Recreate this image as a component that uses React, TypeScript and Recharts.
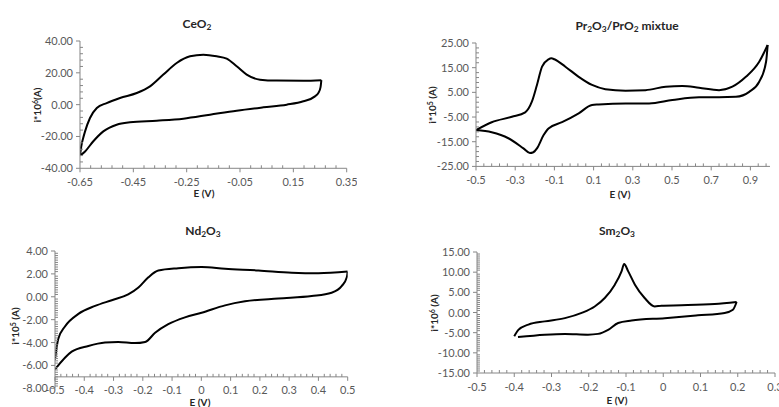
import React from 'react';
import { LineChart, Line, XAxis, YAxis, ReferenceLine } from 'recharts';

type Pair = [number, number];

// CeO2 — forward (upper) and reverse (lower) scans, [E (V), i]
const ceo2Upper: Pair[] = [
  [-0.65, -32], [-0.645, -26], [-0.638, -21], [-0.631, -16.8], [-0.6125, -8.4],
  [-0.587, -2.1], [-0.55, 1], [-0.5, 4.2], [-0.437, 7.3], [-0.3875, 11.5],
  [-0.3375, 18.9], [-0.2875, 26.2], [-0.2375, 30.4], [-0.1875, 31.4], [-0.1375, 30.4],
  [-0.1, 28.9], [-0.0625, 24.1], [-0.025, 18.9], [0.025, 15.7], [0.0875, 15.1],
  [0.1875, 15], [0.255, 15.4],
];
const ceo2Lower: Pair[] = [
  [-0.65, -32], [-0.631, -29.4], [-0.6, -23], [-0.5625, -16.8], [-0.5125, -12.6],
  [-0.4625, -11.1], [-0.3625, -10.1], [-0.2625, -8.8], [-0.1625, -6.3], [-0.0625, -3.8],
  [0.0375, -1.7], [0.125, 0], [0.1875, 2.1], [0.231, 5.2], [0.244, 7.4], [0.252, 11],
  [0.255, 15.4],
];

// Pr2O3/PrO2
const prUpper: Pair[] = [
  [-0.5, -10.3], [-0.42, -7.1], [-0.317, -4.9], [-0.249, -3.1], [-0.215, 1.2],
  [-0.189, 8.0], [-0.163, 15.4], [-0.13, 18.4], [-0.115, 18.8], [-0.1, 18.4],
  [-0.044, 15.4], [0.024, 11.3], [0.092, 8.0], [0.16, 6.3], [0.263, 5.7], [0.365, 5.9],
  [0.468, 7.3], [0.553, 7.6], [0.638, 6.9], [0.74, 5.9], [0.808, 7.3], [0.877, 11.3],
  [0.945, 17.4], [0.988, 24.2],
];
const prLower: Pair[] = [
  [-0.5, -10.3], [-0.42, -11.2], [-0.335, -13.6], [-0.258, -17.7], [-0.225, -19.6],
  [-0.21, -19.4], [-0.189, -17.7], [-0.155, -12.3], [-0.13, -9.6], [-0.061, -7.1],
  [0.024, -3.5], [0.092, -0.1], [0.126, 0.1], [0.263, 0.5], [0.383, 0.5], [0.502, 1.9],
  [0.638, 3.0], [0.74, 3.0], [0.826, 3.2], [0.894, 5.2], [0.945, 9.3], [0.98, 17.4],
  [0.988, 24.2],
];

// Nd2O3
const ndUpper: Pair[] = [
  [-0.5, -5.5], [-0.489, -3.7], [-0.466, -2.6], [-0.42, -1.5], [-0.363, -0.8],
  [-0.306, -0.3], [-0.25, 0.2], [-0.215, 0.8], [-0.181, 1.7], [-0.147, 2.3],
  [-0.079, 2.5], [0.001, 2.6], [0.081, 2.45], [0.195, 2.3], [0.309, 2.1], [0.4, 2.05],
  [0.5, 2.2],
];
const ndLower: Pair[] = [
  [-0.5, -6.35], [-0.443, -4.8], [-0.386, -4.3], [-0.329, -4.0], [-0.284, -3.95],
  [-0.227, -4.05], [-0.192, -3.95], [-0.158, -3.15], [-0.113, -2.4], [-0.056, -1.8],
  [0.001, -1.4], [0.081, -0.75], [0.149, -0.4], [0.263, -0.15], [0.377, 0.06],
  [0.445, 0.35], [0.48, 0.95], [0.497, 1.7], [0.5, 2.2],
];

// Sm2O3
const smUpper: Pair[] = [
  [-0.4, -5.9], [-0.389, -4.3], [-0.362, -3.0], [-0.318, -2.2], [-0.264, -1.4],
  [-0.219, -0.1], [-0.184, 1.5], [-0.157, 3.6], [-0.13, 6.9], [-0.112, 10.2],
  [-0.105, 12.0], [-0.094, 10.2], [-0.076, 6.9], [-0.05, 3.6], [-0.023, 1.5],
  [-0.005, 1.7], [0.049, 1.8], [0.138, 2.1], [0.197, 2.6],
];
const smLower: Pair[] = [
  [-0.39, -6.1], [-0.318, -5.5], [-0.264, -5.3], [-0.202, -5.5], [-0.175, -5.3],
  [-0.148, -4.3], [-0.121, -2.6], [-0.085, -2.0], [0.004, -1.4], [0.093, -0.7],
  [0.165, -0.1], [0.187, 0.7], [0.197, 2.6],
];

// axis tick labels
const ceo2XTicks = [-0.65, -0.45, -0.25, -0.05, 0.15, 0.35];
const ceo2YTicks = [-40, -20, 0, 20, 40];
const prXTicks = [-0.5, -0.3, -0.1, 0.1, 0.3, 0.5, 0.7, 0.9];
const prYTicks = [-25, -15, -5, 5, 15, 25];
const ndXTicks = [-0.5, -0.4, -0.3, -0.2, -0.1, 0, 0.1, 0.2, 0.3, 0.4, 0.5];
const ndYTicks = [-8, -6, -4, -2, 0, 2, 4];
const smXTicks = [-0.5, -0.4, -0.3, -0.2, -0.1, 0, 0.1, 0.2, 0.3];
const smYTicks = [-15, -10, -5, 0, 5, 10, 15];

const AXIS = '#868686';
const LABEL = '#595959';
const FONT = 'Lato, "Liberation Sans", sans-serif';

const toPts = (arr: Pair[]) => arr.map(([e, i]) => ({ e, i }));
const isMajor = (majors: number[], v: number) => majors.some((m) => Math.abs(m - v) < 1e-6);

function withMinor(majors: number[], lo: number, hi: number, step: number) {
  const out: number[] = [];
  const n = Math.floor((hi - lo) / step + 1e-6);
  for (let k = 0; k <= n; k++) out.push(+(lo + k * step).toFixed(4));
  majors.forEach((m) => {
    if (!isMajor(out, m)) out.push(m);
  });
  return out.sort((a, b) => a - b);
}

const fmtX = (v: number) => String(Number(v.toFixed(2)));
const fmtY = (v: number) => (Math.abs(v) < 1e-9 ? 0 : v).toFixed(2);

type Box = { l: number; t: number; r: number; b: number };

interface PanelProps {
  box: Box;
  xDomain: [number, number];
  yDomain: [number, number];
  xMajors: number[];
  xStep: number;
  yMajors: number[];
  yStep: number;
  branches: Pair[][];
  crossY?: number;
  xLabelDy?: number;
}

function Panel({ box, xDomain, yDomain, xMajors, xStep, yMajors, yStep, branches, crossY, xLabelDy = 18 }: PanelProps) {
  const w = box.r - box.l + 70;
  const h = box.b - box.t + 40;
  const xTicks = withMinor(xMajors, xDomain[0], xDomain[1], xStep);
  const yTicks = withMinor(yMajors, yDomain[0], yDomain[1], yStep);
  const marksOnAxis = crossY === undefined;

  const xTick = (p: any) => {
    const { x, y, payload } = p;
    const v = payload.value;
    const major = isMajor(xMajors, v);
    return (
      <g>
        {marksOnAxis &&
          (major ? (
            <line x1={x} x2={x} y1={y} y2={y + 4} stroke={AXIS} />
          ) : (
            <line x1={x} x2={x} y1={y - 3} y2={y} stroke={AXIS} />
          ))}
        {major && (
          <text x={x} y={y + xLabelDy} textAnchor="middle" fill={LABEL} fontSize={11} fontFamily={FONT}>
            {fmtX(v)}
          </text>
        )}
      </g>
    );
  };

  const yTick = (p: any) => {
    const { x, y, payload } = p;
    const v = payload.value;
    const major = isMajor(yMajors, v);
    return (
      <g>
        {major ? (
          <line x1={x - 4} x2={x} y1={y} y2={y} stroke={AXIS} />
        ) : (
          <line x1={x} x2={x + 3} y1={y} y2={y} stroke={AXIS} />
        )}
        {major && (
          <text x={x - 7} y={y + 4} textAnchor="end" fill={LABEL} fontSize={11} fontFamily={FONT}>
            {fmtY(v)}
          </text>
        )}
      </g>
    );
  };

  const crossShape = (p: any) => {
    const { x1, y1, x2 } = p;
    const span = xDomain[1] - xDomain[0];
    return (
      <g>
        <line x1={x1} x2={x2} y1={y1} y2={y1} stroke={AXIS} />
        {xTicks.map((v) => {
          const px = x1 + ((v - xDomain[0]) / span) * (x2 - x1);
          return isMajor(xMajors, v) ? (
            <line key={v} x1={px} x2={px} y1={y1} y2={y1 + 4} stroke={AXIS} />
          ) : (
            <line key={v} x1={px} x2={px} y1={y1 - 3} y2={y1} stroke={AXIS} />
          );
        })}
      </g>
    );
  };

  return (
    <div style={{ position: 'absolute', left: box.l - 60, top: box.t - 10 }}>
      <LineChart width={w} height={h} margin={{ top: 10, right: 10, left: 0, bottom: 0 }}>
        <XAxis
          type="number"
          dataKey="e"
          domain={xDomain}
          ticks={xTicks}
          interval={0}
          allowDataOverflow
          height={30}
          tickSize={0}
          tickMargin={0}
          axisLine={marksOnAxis ? { stroke: AXIS } : false}
          tickLine={false}
          tick={xTick}
        />
        <YAxis
          type="number"
          domain={yDomain}
          ticks={yTicks}
          interval={0}
          allowDataOverflow
          width={60}
          tickSize={0}
          tickMargin={0}
          axisLine={{ stroke: AXIS }}
          tickLine={false}
          tick={yTick}
        />
        {crossY !== undefined && <ReferenceLine y={crossY} stroke={AXIS} shape={crossShape} />}
        {branches.map((b, k) => (
          <Line
            key={k}
            data={toPts(b)}
            dataKey="i"
            type="monotone"
            stroke="#000"
            strokeWidth={2}
            dot={false}
            activeDot={false}
            isAnimationActive={false}
          />
        ))}
      </LineChart>
    </div>
  );
}

const textBase: React.CSSProperties = {
  position: 'absolute',
  transform: 'translate(-50%, -50%)',
  whiteSpace: 'nowrap',
  fontFamily: FONT,
  fontWeight: 700,
  color: '#262626',
  lineHeight: 1,
};
const sub: React.CSSProperties = { fontSize: '0.7em', verticalAlign: '-0.25em' };
const sup: React.CSSProperties = { fontSize: '0.7em', verticalAlign: '0.45em' };

function Title({ x, y, children }: { x: number; y: number; children: React.ReactNode }) {
  return <div style={{ ...textBase, left: x, top: y, fontSize: 12 }}>{children}</div>;
}
function XLabel({ x, y }: { x: number; y: number }) {
  return <div style={{ ...textBase, left: x, top: y, fontSize: 10 }}>E (V)</div>;
}
function YLabel({ x, y, exp, gap }: { x: number; y: number; exp: string; gap: boolean }) {
  return (
    <div style={{ ...textBase, left: x, top: y, fontSize: 10, transform: 'translate(-50%, -50%) rotate(-90deg)' }}>
      i*10<span style={sup}>{exp}</span>
      {gap ? ' ' : ''}(A)
    </div>
  );
}

export default function App() {
  return (
    <div style={{ position: 'absolute', left: 0, top: 0, width: 779, height: 407, overflow: 'hidden', background: '#fff' }}>
      <Panel
        box={{ l: 80, t: 41, r: 346.7, b: 168.3 }}
        xDomain={[-0.65, 0.35]}
        yDomain={[-40, 40]}
        xMajors={ceo2XTicks}
        xStep={0.04}
        yMajors={ceo2YTicks}
        yStep={4}
        branches={[ceo2Upper, ceo2Lower]}
      />
      <Panel
        box={{ l: 476, t: 43.3, r: 770, b: 166.7 }}
        xDomain={[-0.5, 1.0]}
        yDomain={[-25, 25]}
        xMajors={prXTicks}
        xStep={0.04}
        yMajors={prYTicks}
        yStep={2}
        branches={[prUpper, prLower]}
      />
      <Panel
        box={{ l: 55, t: 251, r: 347.7, b: 388.3 }}
        xDomain={[-0.5, 0.5]}
        yDomain={[-8, 4]}
        xMajors={ndXTicks}
        xStep={0.02}
        yMajors={ndYTicks}
        yStep={0.2}
        branches={[ndUpper, ndLower]}
        crossY={-7}
        xLabelDy={6}
      />
      <Panel
        box={{ l: 477, t: 252.3, r: 775, b: 373.3 }}
        xDomain={[-0.5, 0.3]}
        yDomain={[-15, 15]}
        xMajors={smXTicks}
        xStep={0.02}
        yMajors={smYTicks}
        yStep={0.5}
        branches={[smUpper, smLower]}
      />

      <Title x={197} y={25}>
        CeO<span style={sub}>2</span>
      </Title>
      <Title x={627} y={27}>
        Pr<span style={sub}>2</span>O<span style={sub}>3</span>/PrO<span style={sub}>2</span> mixtue
      </Title>
      <Title x={203} y={232}>
        Nd<span style={sub}>2</span>O<span style={sub}>3</span>
      </Title>
      <Title x={617} y={232}>
        Sm<span style={sub}>2</span>O<span style={sub}>3</span>
      </Title>

      <YLabel x={37} y={105} exp="6" gap={false} />
      <YLabel x={432} y={105} exp="5" gap />
      <YLabel x={15} y={326} exp="5" gap />
      <YLabel x={434} y={313} exp="6" gap />

      <XLabel x={204} y={193} />
      <XLabel x={620} y={194} />
      <XLabel x={200} y={402} />
      <XLabel x={617} y={400} />
    </div>
  );
}
